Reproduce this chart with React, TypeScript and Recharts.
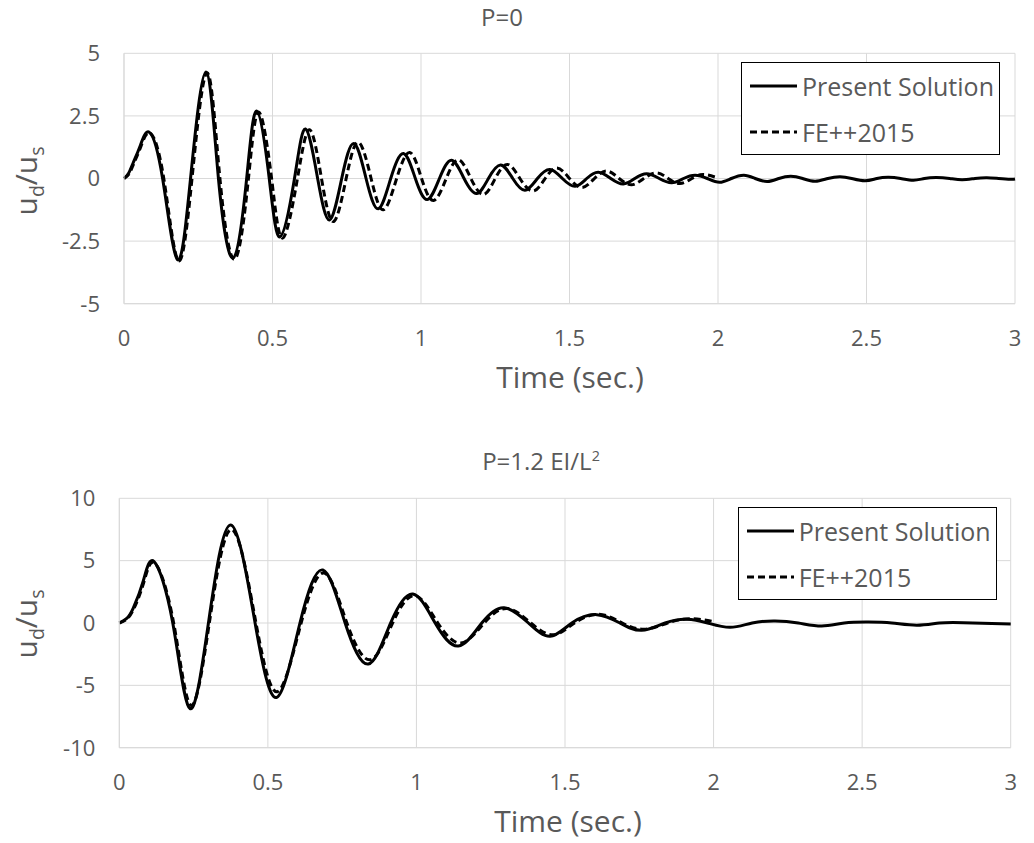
import { LineChart, Line, XAxis, YAxis, CartesianGrid, Legend } from "recharts";

const FONT = '"Open Sans", sans-serif';
const TEXT = "#595959";
const GRID = "#d9d9d9";

const SERIES_NAMES = ["Present Solution", "FE++2015"];
const X_TICKS = [0, 0.5, 1, 1.5, 2, 2.5, 3];
const TOP_Y_TICKS = [-5, -2.5, 0, 2.5, 5];
const BOTTOM_Y_TICKS = [-10, -5, 0, 5, 10];

const TOP_SOLID: [number, number][] = [
  [0, 0], [0.015, 0.2], [0.031, 0.63], [0.054, 1.29], [0.085, 1.85], [0.13, 0],
  [0.18, -3.24], [0.224, 0], [0.276, 4.25], [0.318, 0], [0.368, -3.17], [0.413, 0],
  [0.447, 2.69], [0.489, 0], [0.525, -2.33], [0.574, 0], [0.611, 1.98], [0.652, 0],
  [0.692, -1.66], [0.733, 0], [0.774, 1.4], [0.815, 0], [0.856, -1.21], [0.898, 0],
  [0.941, 1.0], [0.981, 0], [1.021, -0.84], [1.062, 0], [1.103, 0.73], [1.145, 0],
  [1.187, -0.6], [1.227, 0], [1.268, 0.54], [1.309, 0], [1.35, -0.47], [1.392, 0],
  [1.434, 0.36], [1.476, 0], [1.519, -0.31], [1.558, 0], [1.597, 0.25], [1.639, 0],
  [1.681, -0.22], [1.72, 0], [1.76, 0.19], [1.802, 0], [1.844, -0.17], [1.884, 0],
  [1.923, 0.13], [1.964, 0], [2.005, -0.15], [2.045, 0], [2.087, 0.13], [2.125, 0],
  [2.166, -0.12], [2.205, 0], [2.245, 0.09], [2.285, 0], [2.327, -0.11], [2.37, 0],
  [2.411, 0.07], [2.45, 0], [2.495, -0.09], [2.535, 0], [2.574, 0.05], [2.615, 0],
  [2.658, -0.07], [2.695, 0], [2.736, 0.04], [2.78, 0], [2.822, -0.05], [2.865, 0],
  [2.905, 0.03], [2.945, 0], [2.985, -0.03], [3, -0.02],
];

const TOP_DASHED: [number, number][] = [
  [0, 0], [0.017, 0.18], [0.033, 0.6], [0.056, 1.25], [0.088, 1.82], [0.134, 0],
  [0.183, -3.28], [0.229, 0], [0.28, 4.22], [0.323, 0], [0.373, -3.22], [0.419, 0],
  [0.454, 2.65], [0.497, 0], [0.534, -2.38], [0.584, 0], [0.625, 1.95], [0.665, 0],
  [0.705, -1.72], [0.748, 0], [0.789, 1.45], [0.832, 0], [0.873, -1.25], [0.918, 0],
  [0.962, 1.04], [1.002, 0], [1.042, -0.88], [1.085, 0], [1.126, 0.75], [1.168, 0],
  [1.21, -0.64], [1.25, 0], [1.291, 0.56], [1.333, 0], [1.377, -0.5], [1.418, 0],
  [1.458, 0.42], [1.5, 0], [1.542, -0.36], [1.584, 0], [1.625, 0.3], [1.667, 0],
  [1.709, -0.25], [1.75, 0], [1.793, 0.22], [1.832, 0], [1.872, -0.2], [1.912, 0],
  [1.95, 0.16], [2.0, 0.02],
];

const BOTTOM_SOLID: [number, number][] = [
  [0, 0], [0.025, 0.37], [0.047, 1.2], [0.081, 3.4], [0.117, 4.92], [0.18, 0],
  [0.238, -6.87], [0.3, 0], [0.375, 7.86], [0.457, 0], [0.53, -5.96], [0.608, 0],
  [0.685, 4.25], [0.76, 0], [0.838, -3.29], [0.913, 0], [0.988, 2.33], [1.063, 0],
  [1.141, -1.84], [1.22, 0], [1.295, 1.23], [1.377, 0], [1.45, -1.07], [1.523, 0],
  [1.607, 0.67], [1.685, 0], [1.758, -0.59], [1.837, 0], [1.91, 0.3], [1.98, 0],
  [2.056, -0.35], [2.13, 0], [2.207, 0.16], [2.285, 0], [2.364, -0.24], [2.44, 0],
  [2.521, 0.08], [2.6, 0], [2.684, -0.18], [2.76, 0], [2.841, 0.03], [3, -0.08],
];

const BOTTOM_DASHED: [number, number][] = [
  [0, 0], [0.025, 0.3], [0.05, 1.2], [0.083, 3.3], [0.12, 4.8], [0.183, 0],
  [0.241, -6.6], [0.303, 0], [0.378, 7.5], [0.46, 0], [0.533, -5.5], [0.612, 0],
  [0.69, 4.0], [0.766, 0], [0.845, -2.95], [0.92, 0], [0.995, 2.2], [1.072, 0],
  [1.15, -1.6], [1.228, 0], [1.305, 1.17], [1.385, 0], [1.46, -0.95], [1.532, 0],
  [1.615, 0.7], [1.693, 0], [1.768, -0.5], [1.845, 0], [1.92, 0.35], [2.0, 0.12],
];

const toRows = (pairs: [number, number][]) => pairs.map(([t, v]) => ({ t, v }));

const textStyle = { fontFamily: FONT, color: TEXT, position: "absolute" as const, whiteSpace: "nowrap" as const, lineHeight: 1 };

function LegendBox() {
  return (
    <div style={{ width: 257, height: 91, border: "1px solid #000", background: "#fff", fontFamily: FONT, fontSize: 25, color: TEXT }}>
      {SERIES_NAMES.map((name, i) => (
        <div key={name} style={{ display: "flex", alignItems: "center", height: 46 }}>
          <svg width={47} height={6} style={{ marginLeft: 8, marginRight: 5 }}>
            <line x1={0} y1={3} x2={47} y2={3} stroke="#000" strokeWidth={3} strokeDasharray={i === 1 ? "7 4" : undefined} />
          </svg>
          <span>{name}</span>
        </div>
      ))}
    </div>
  );
}

type PanelProps = {
  top: number;
  height: number;
  margin: { top: number; right: number; bottom: number; left: number };
  yTicks: number[];
  solid: [number, number][];
  dashed: [number, number][];
  legendPos: { left: number; top: number };
};

function Panel({ top, height, margin, yTicks, solid, dashed, legendPos }: PanelProps) {
  const tick = { fontFamily: FONT, fontSize: 22, fill: TEXT };
  return (
    <div style={{ position: "absolute", left: 0, top }}>
      <LineChart width={1034} height={height} margin={margin}>
        <CartesianGrid stroke={GRID} />
        <XAxis
          dataKey="t"
          type="number"
          domain={[0, 3]}
          ticks={X_TICKS}
          interval={0}
          tick={tick}
          tickLine={false}
          tickSize={0}
          tickMargin={27}
          axisLine={{ stroke: GRID }}
          height={50}
        />
        <YAxis
          type="number"
          domain={[yTicks[0], yTicks[yTicks.length - 1]]}
          ticks={yTicks}
          interval={0}
          tick={tick}
          tickLine={false}
          tickSize={0}
          tickMargin={24}
          axisLine={{ stroke: GRID }}
          width={60}
        />
        <Legend
          layout="horizontal"
          verticalAlign="middle"
          align="center"
          content={() => <LegendBox />}
          wrapperStyle={{ left: legendPos.left, top: legendPos.top, width: 259 }}
        />
        <Line data={toRows(solid)} dataKey="v" name={SERIES_NAMES[0]} type="natural" stroke="#000" strokeWidth={3} dot={false} activeDot={false} isAnimationActive={false} />
        <Line data={toRows(dashed)} dataKey="v" name={SERIES_NAMES[1]} type="natural" stroke="#000" strokeWidth={3} strokeDasharray="7 4" dot={false} activeDot={false} isAnimationActive={false} />
      </LineChart>
    </div>
  );
}

function YLabel({ x, y }: { x: number; y: number }) {
  return (
    <div style={{ ...textStyle, fontSize: 30, left: x, top: y, transform: "translate(-50%, -50%) rotate(-90deg)" }}>
      u<sub style={{ fontSize: "0.65em", lineHeight: 0 }}>d</sub>/u<sub style={{ fontSize: "0.65em", lineHeight: 0 }}>s</sub>
    </div>
  );
}

export default function App() {
  return (
    <div style={{ position: "absolute", left: 0, top: 0, width: 1034, height: 843, background: "#fff", overflow: "hidden" }}>
      <div style={{ ...textStyle, fontSize: 24, left: 502, top: 5, transform: "translateX(-50%)" }}>P=0</div>
      <Panel
        top={0}
        height={400}
        margin={{ top: 53.3, right: 19, bottom: 46.3, left: 64 }}
        yTicks={TOP_Y_TICKS}
        solid={TOP_SOLID}
        dashed={TOP_DASHED}
        legendPos={{ left: 741, top: 62 }}
      />
      <YLabel x={26} y={181} />
      <div style={{ ...textStyle, fontSize: 30, left: 570, top: 362, transform: "translateX(-50%)" }}>Time (sec.)</div>

      <div style={{ ...textStyle, fontSize: 24, left: 541, top: 449, transform: "translateX(-50%)" }}>
        P=1.2 EI/L<sup style={{ fontSize: "0.6em", lineHeight: 0 }}>2</sup>
      </div>
      <Panel
        top={420}
        height={423}
        margin={{ top: 78.3, right: 23.3, bottom: 45.3, left: 59.3 }}
        yTicks={BOTTOM_Y_TICKS}
        solid={BOTTOM_SOLID}
        dashed={BOTTOM_DASHED}
        legendPos={{ left: 737.7, top: 87 }}
      />
      <YLabel x={26} y={624} />
      <div style={{ ...textStyle, fontSize: 30, left: 568, top: 806, transform: "translateX(-50%)" }}>Time (sec.)</div>
    </div>
  );
}
